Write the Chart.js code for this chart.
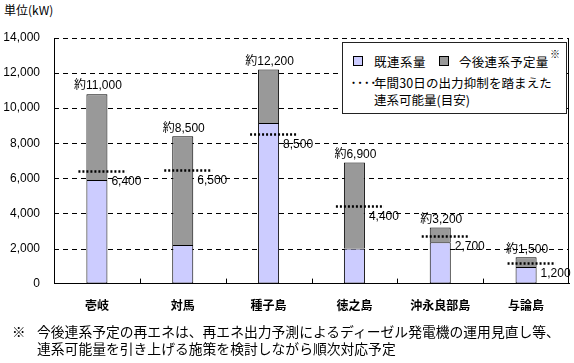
<!DOCTYPE html>
<html>
<head>
<meta charset="utf-8">
<script src="https://cdn.jsdelivr.net/npm/chart.js@4.4.1/dist/chart.umd.min.js"></script>
<style>
  body { margin: 0; background: #fff; }
  #wrap { position: relative; width: 574px; height: 363px; font-family: "Noto Sans CJK JP", sans-serif; color: #000; }
  #chartBox { position: absolute; left: 0; top: 0; width: 574px; height: 324px; }
  .abs { position: absolute; white-space: nowrap; line-height: 1; }
  #legend { position: absolute; left: 342px; top: 42px; width: 223px; height: 70px; border: 1px solid #222; background: #fff; }
  .sw { position: absolute; width: 8px; height: 8px; border: 1px solid #000; }
</style>
</head>
<body>
<div id="wrap">
  <div class="abs" style="left:4px; top:4px; font-size:12px;">単位(kW)</div>
  <div id="chartBox"><canvas id="islandChart"></canvas></div>
  <div id="legend">
    <div class="sw" style="left:10px; top:13px; background:#ccccff;"></div>
    <div class="abs" style="left:31px; top:13px; font-size:12.5px; letter-spacing:0.5px;">既連系量</div>
    <div class="sw" style="left:96px; top:13px; background:#999999;"></div>
    <div class="abs" style="left:116px; top:13px; font-size:12.5px; letter-spacing:0.3px;">今後連系予定量</div>
    <div class="abs" style="left:207px; top:6px; font-size:10px;">※</div>
    <div class="abs" style="left:7px; top:33px; font-size:12px; font-weight:bold; letter-spacing:-0.5px;">····</div>
    <div class="abs" style="left:31px; top:34px; font-size:12.5px; letter-spacing:0.1px;">年間30日の出力抑制を踏まえた</div>
    <div class="abs" style="left:31px; top:51px; font-size:12.5px;">連系可能量(目安)</div>
  </div>
  <div class="abs" style="left:12px; top:325px; font-size:13.5px;">※</div>
  <div class="abs" style="left:37px; top:325px; font-size:13.8px;">今後連系予定の再エネは、再エネ出力予測によるディーゼル発電機の運用見直し等、</div>
  <div class="abs" style="left:37px; top:342px; font-size:13.8px;">連系可能量を引き上げる施策を検討しながら順次対応予定</div>
</div>
<script>
const islands = ['壱岐', '対馬', '種子島', '徳之島', '沖永良部島', '与論島'];
const connected = [5900, 2200, 9150, 2000, 2350, 950];
const planned = [4900, 6200, 3050, 4900, 850, 550];
const capacity = [6400, 6500, 8500, 4400, 2700, 1200];
const totalLabels = ['約11,000', '約8,500', '約12,200', '約6,900', '約3,200', '約1,500'];
const capacityLabels = ['6,400', '6,500', '8,500', '4,400', '2,700', '1,200'];
const yTickLabels = ['0', '2,000', '4,000', '6,000', '8,000', '10,000', '12,000', '14,000'];

const numFont = '"Liberation Sans", Arial, "Noto Sans CJK JP", sans-serif';

// dashed grid, dotted capacity lines, value labels, right frame, inner ticks
const overlay = {
    id: 'overlay',
    beforeDatasetsDraw(chart) {
        const ctx = chart.ctx;
        const area = chart.chartArea;
        const y = chart.scales.y;
        ctx.save();
        ctx.strokeStyle = '#000';
        ctx.lineWidth = 1;
        ctx.setLineDash([5, 4]);
        y.ticks.forEach(t => {
            if (t.value === 0) return;
            const gy = Math.round(y.getPixelForValue(t.value)) + 0.5;
            ctx.beginPath();
            ctx.moveTo(area.left, gy);
            ctx.lineTo(area.right, gy);
            ctx.stroke();
        });
        ctx.restore();
    },
    afterDatasetsDraw(chart) {
        const ctx = chart.ctx;
        const area = chart.chartArea;
        const y = chart.scales.y;
        const topBars = chart.getDatasetMeta(1).data;
        ctx.save();

        // right frame
        ctx.strokeStyle = '#000';
        ctx.lineWidth = 1;
        ctx.beginPath();
        ctx.moveTo(Math.round(area.right) - 0.5, area.top);
        ctx.lineTo(Math.round(area.right) - 0.5, area.bottom);
        ctx.stroke();

        // inward ticks between categories
        const step = (area.right - area.left) / islands.length;
        for (let i = 1; i < islands.length; i++) {
            const tx = Math.round(area.left + step * i) + 0.5;
            ctx.beginPath();
            ctx.moveTo(tx, area.bottom);
            ctx.lineTo(tx, area.bottom - 5);
            ctx.stroke();
        }

        ctx.fillStyle = '#000';
        ctx.font = '12px ' + numFont;
        topBars.forEach((bar, i) => {
            const left = bar.x - bar.width / 2;
            const right = bar.x + bar.width / 2;
            ctx.textAlign = 'center';
            ctx.textBaseline = 'bottom';
            ctx.fillText(totalLabels[i], bar.x + 1, bar.y - 2);

            const ly = Math.round(y.getPixelForValue(capacity[i])) + 0.5;
            ctx.setLineDash([2, 2]);
            ctx.lineWidth = 2.5;
            ctx.beginPath();
            ctx.moveTo(left - 8, ly);
            ctx.lineTo(right + 19, ly);
            ctx.stroke();
            ctx.setLineDash([]);

            ctx.textAlign = 'left';
            ctx.textBaseline = 'middle';
            ctx.fillText(capacityLabels[i], right + 4, ly + 10);
        });
        ctx.restore();
    }
};

new Chart(document.getElementById('islandChart'), {
    type: 'bar',
    data: {
        labels: islands,
        datasets: [{
            label: '既連系量',
            data: connected,
            backgroundColor: '#ccccff',
            borderColor: '#000',
            borderWidth: 1,
            borderSkipped: false
        }, {
            label: '今後連系予定量',
            data: planned,
            backgroundColor: '#999999',
            borderColor: '#000',
            borderWidth: 1,
            borderSkipped: 'bottom'
        }]
    },
    options: {
        responsive: true,
        maintainAspectRatio: false,
        animation: false,
        layout: { padding: { left: 0, right: 5, top: 38, bottom: 4 } },
        datasets: { bar: { categoryPercentage: 1, barPercentage: 0.245 } },
        scales: {
            x: {
                stacked: true,
                grid: { display: false },
                border: { color: '#000' },
                ticks: {
                    color: '#000',
                    padding: 7,
                    font: { family: '"Noto Sans CJK JP", sans-serif', size: 12, weight: 'bold' }
                }
            },
            y: {
                stacked: true,
                min: 0,
                max: 14000,
                grid: { display: false, drawTicks: false },
                border: { color: '#000' },
                afterFit: scale => { scale.width = 54; },
                ticks: {
                    stepSize: 2000,
                    padding: 14,
                    color: '#000',
                    font: { family: numFont, size: 12 },
                    callback: (v, i) => yTickLabels[i]
                }
            }
        },
        plugins: {
            legend: { display: false },
            tooltip: { enabled: false }
        }
    },
    plugins: [overlay]
});
</script>
</body>
</html>
